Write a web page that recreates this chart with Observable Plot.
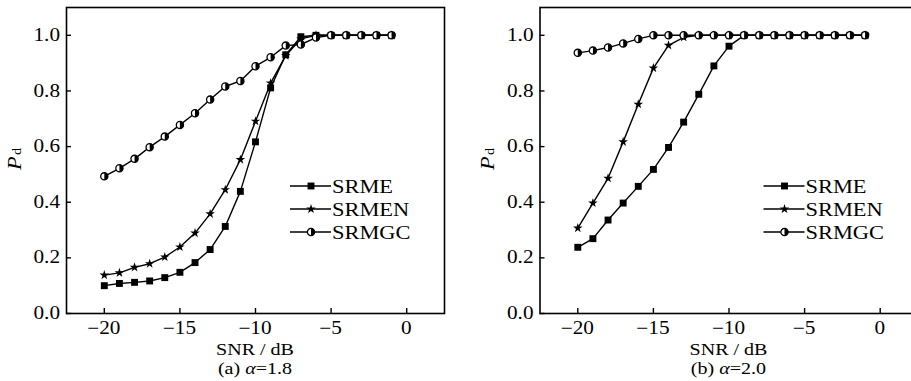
<!DOCTYPE html>
<html><head><meta charset="utf-8">
<script src="https://cdn.jsdelivr.net/npm/d3@7"></script>
<script src="https://cdn.jsdelivr.net/npm/@observablehq/plot@0.6"></script>
<style>
body{margin:0;background:#fff;overflow:hidden}
#wrap{position:relative;width:911px;height:381px;overflow:hidden;background:#fff}
#wrap svg{position:absolute;top:0;max-width:none}
</style></head><body><div id="wrap"></div>
<script>
const snr = [-20,-19,-18,-17,-16,-15,-14,-13,-12,-11,-10,-9,-8,-7,-6,-5,-4,-3,-2,-1];
const seriesNames = ["SRME","SRMEN","SRMGC"];
// panel (a) alpha = 1.8
const a_SRME  = [0.100,0.108,0.112,0.117,0.129,0.148,0.183,0.230,0.313,0.439,0.617,0.811,0.930,0.995,1.0,1.0,1.0,1.0,1.0,1.0];
const a_SRMEN = [0.138,0.146,0.166,0.179,0.203,0.239,0.289,0.358,0.445,0.553,0.691,0.828,0.927,0.987,1.0,1.0,1.0,1.0,1.0,1.0];
const a_SRMGC = [0.493,0.522,0.556,0.598,0.636,0.678,0.720,0.769,0.816,0.836,0.889,0.921,0.963,0.967,0.992,1.0,1.0,1.0,1.0,1.0];
// panel (b) alpha = 2.0
const b_SRME  = [0.238,0.269,0.336,0.397,0.457,0.518,0.597,0.688,0.788,0.890,0.961,1.0,1.0,1.0,1.0,1.0,1.0,1.0,1.0,1.0];
const b_SRMEN = [0.307,0.397,0.486,0.617,0.752,0.882,0.964,0.993,1.0,1.0,1.0,1.0,1.0,1.0,1.0,1.0,1.0,1.0,1.0,1.0];
const b_SRMGC = [0.937,0.945,0.956,0.971,0.987,1.0,1.0,1.0,1.0,1.0,1.0,1.0,1.0,1.0,1.0,1.0,1.0,1.0,1.0,1.0];
const xTicks = [-20,-15,-10,-5,0];
const yTicks = [0,0.2,0.4,0.6,0.8,1.0];
const xLabel = "SNR / dB";
const captionTags = ["(a)","(b)"];
const alphaValues = ["1.8","2.0"];

const FONT = "'Liberation Serif','Times New Roman',serif";
const SX = 1.18; // horizontal stretch of the reference's lettering
const fmtX = d => d < 0 ? "\u2212" + (-d) : String(d);
const fmtY = d3.format(".1f");
const halfDisk = {draw(ctx, size){ const r = Math.sqrt(size/Math.PI); ctx.moveTo(0,-r); ctx.arc(0,0,r,-Math.PI/2,Math.PI/2); ctx.closePath(); }};
const R = {SRME: 3.9, SRMEN: 3.0, SRMGC: 3.6};

function stretchText(sel, x, y, extra = "") {
  sel.attr("x", null).attr("y", null).attr("transform", `translate(${x},${y})${extra} scale(${SX},1)`);
}

function panel(series, ml, leftPx, idx) {
  const W = 460, plotW = 378, H = 381, mt = 7, mb = 68;
  const mr = W - ml - plotW;
  const rows = [];
  seriesNames.forEach((name, si) => series[si].forEach((v, i) => rows.push({snr: snr[i], pd: v, name})));
  const sub = n => rows.filter(d => d.name === n);
  const svg = Plot.plot({
    width: W, height: H, marginLeft: ml, marginRight: mr, marginTop: mt, marginBottom: mb,
    x: {domain: [-22.5, 2.5]}, y: {domain: [0, 1.1]},
    style: {fontFamily: FONT, fontSize: "17px", color: "black", background: "transparent"},
    marks: [
      Plot.frame({stroke: "black", strokeWidth: 1.6}),
      Plot.axisX(xTicks, {tickSize: 5, dy: -5, tickFormat: () => "", label: null, strokeWidth: 1.4}),
      Plot.axisY(yTicks, {tickSize: 5, dx: 5, tickFormat: () => "", label: null, strokeWidth: 1.4}),
      Plot.line(rows, {x: "snr", y: "pd", z: "name", stroke: "black", strokeWidth: 1.4}),
      Plot.dot(sub("SRME"), {x: "snr", y: "pd", symbol: "square", r: R.SRME, fill: "black"}),
      Plot.dot(sub("SRMEN"), {x: "snr", y: "pd", symbol: "star", r: R.SRMEN, fill: "black"}),
      Plot.dot(sub("SRMGC"), {x: "snr", y: "pd", symbol: "circle", r: R.SRMGC, fill: "white", stroke: "black", strokeWidth: 1.3}),
      Plot.dot(sub("SRMGC"), {x: "snr", y: "pd", symbol: halfDisk, r: R.SRMGC, fill: "black"})
    ]
  });
  svg.style.left = leftPx + "px";
  const s = d3.select(svg);
  const sx = svg.scale("x"), sy = svg.scale("y");
  const bottom = H - mb;
  // tick labels placed through Plot's own scales
  const gx = s.append("g").attr("font-size", 18).attr("font-family", FONT).attr("text-anchor", "middle");
  xTicks.forEach(v => {
    const t = gx.append("text").text(fmtX(v));
    stretchText(t, sx.apply(v), bottom + 21);
  });
  const gy = s.append("g").attr("font-size", 18).attr("font-family", FONT).attr("text-anchor", "end");
  yTicks.forEach(v => {
    const t = gy.append("text").attr("dy", "0.34em").text(fmtY(v));
    stretchText(t, ml - 6, sy.apply(v));
  });
  const cx = ml + plotW / 2;
  // x label and caption
  const xl = s.append("text").attr("text-anchor", "middle")
    .attr("font-size", 17).attr("font-family", FONT).text(xLabel);
  stretchText(xl, cx, 355);
  const cap = s.append("text").attr("text-anchor", "middle")
    .attr("font-size", 17).attr("font-family", FONT);
  cap.append("tspan").text(captionTags[idx] + " ");
  cap.append("tspan").attr("font-style", "italic").text("\u03b1");
  cap.append("tspan").text("=" + alphaValues[idx]);
  stretchText(cap, cx, 374);
  // y label P_d
  const yl = s.append("text").attr("text-anchor", "middle").attr("font-family", FONT);
  yl.append("tspan").attr("font-style", "italic").attr("font-size", 19).text("P");
  yl.append("tspan").attr("font-size", 12).attr("dx", 1).text("d");
  stretchText(yl, ml - 45.5, 159, " rotate(-90)");
  // legend
  const lx = ml + 224;
  const symbols = {SRME: d3.symbolSquare, SRMEN: d3.symbolStar, SRMGC: d3.symbolCircle};
  seriesNames.forEach((n, i) => {
    const y = 186 + i * 23;
    const g = s.append("g");
    g.append("line").attr("x1", lx).attr("x2", lx + 41).attr("y1", y).attr("y2", y).attr("stroke", "black").attr("stroke-width", 1.4);
    const size = Math.PI * R[n] * R[n];
    if (n === "SRMGC") {
      g.append("path").attr("d", d3.symbol(d3.symbolCircle, size)()).attr("transform", `translate(${lx + 21},${y})`).attr("fill", "white").attr("stroke", "black").attr("stroke-width", 1.3);
      g.append("path").attr("d", d3.symbol(halfDisk, size)()).attr("transform", `translate(${lx + 21},${y})`).attr("fill", "black");
    } else {
      g.append("path").attr("d", d3.symbol(symbols[n], size)()).attr("transform", `translate(${lx + 21},${y})`).attr("fill", "black");
    }
    const t = g.append("text").attr("dy", "0.35em").attr("text-anchor", "start")
      .attr("font-size", 19).attr("font-family", FONT).text(n);
    stretchText(t, lx + 42, y);
  });
  return svg;
}

const wrap = document.getElementById("wrap");
wrap.appendChild(panel([a_SRME, a_SRMEN, a_SRMGC], 66, 0, 0));
wrap.appendChild(panel([b_SRME, b_SRMEN, b_SRMGC], 79.5, 460, 1));
</script></body></html>
